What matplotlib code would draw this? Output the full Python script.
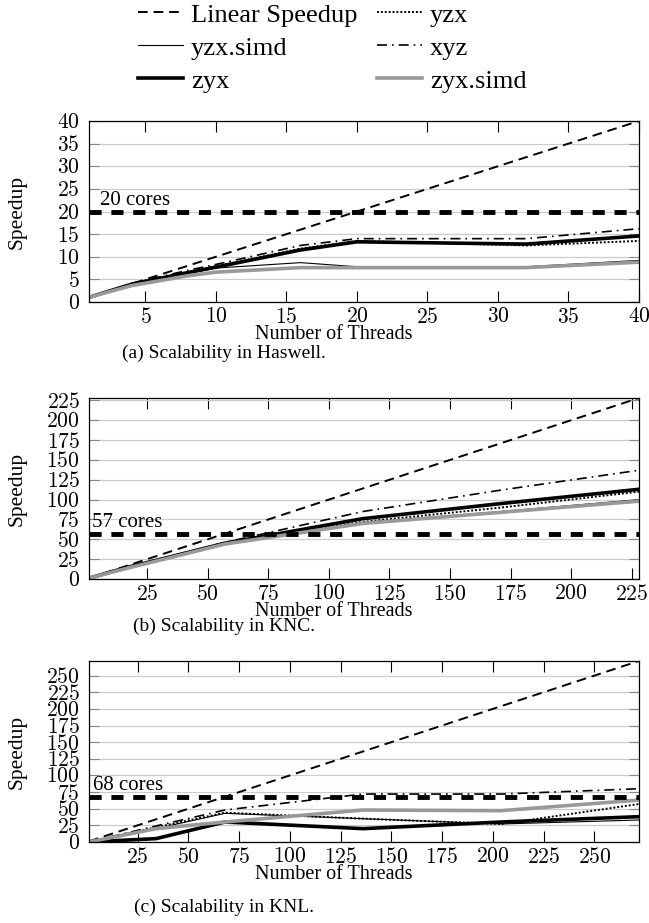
import matplotlib
matplotlib.use("Agg")
from matplotlib import pyplot as plt
from matplotlib.ticker import FuncFormatter
import matplotlib.transforms as mtransforms

plt.rcParams['font.family'] = ['Liberation Serif', 'DejaVu Serif']
plt.rcParams['mathtext.fontset'] = 'cm'

# Haswell
has_threads = [1, 2, 4, 8, 10, 16, 20, 32, 40]
has_yzx = [1, 2, 3.9, 6.6, 7.9, 11.8, 13.5, 12.5, 13.5]
has_yzx_simd = [1, 2, 3.8, 6.3, 7.5, 8.7, 7.8, 7.8, 9.2]
has_xyz = [1, 2, 4.1, 7.0, 8.3, 12.5, 14.0, 14.0, 16.2]
has_zyx = [1, 2, 3.9, 6.5, 7.7, 11.5, 13.3, 12.8, 14.6]
has_zyx_simd = [1, 1.9, 3.6, 5.8, 6.6, 7.6, 7.6, 7.6, 8.8]

# KNC
knc_threads = [1, 16, 32, 57, 114, 171, 228]
knc_yzx = [1, 14, 26, 45, 72, 90, 110]
knc_yzx_simd = [1, 13, 25, 44, 71, 85, 100]
knc_xyz = [1, 14, 26, 46, 85, 112, 137]
knc_zyx = [1, 14, 26, 45, 76, 95, 113]
knc_zyx_simd = [1, 13, 25, 44, 70, 84, 98]

# KNL
knl_threads = [1, 34, 68, 136, 204, 272]
knl_yzx = [0, 22, 44, 35, 27, 57]
knl_yzx_simd = [0, 20, 43, 35, 27, 33]
knl_xyz = [0, 24, 48, 72, 72, 80]
knl_zyx = [0, 5, 30, 20, 30, 38]
knl_zyx_simd = [0, 20, 30, 48, 47, 63]

panels = [
    ("(a) Scalability in Haswell.", has_threads, [has_yzx, has_yzx_simd, has_xyz, has_zyx, has_zyx_simd],
     40, 20, range(5, 41, 5), range(0, 41, 5), 0.6728, 0.02),
    ("(b) Scalability in KNC.", knc_threads, [knc_yzx, knc_yzx_simd, knc_xyz, knc_zyx, knc_zyx_simd],
     228, 57, range(25, 226, 25), range(0, 226, 25), 0.3727, 0.006),
    ("(c) Scalability in KNL.", knl_threads, [knl_yzx, knl_yzx_simd, knl_xyz, knl_zyx, knl_zyx_simd],
     272, 68, range(25, 251, 25), range(0, 251, 25), 0.0878, 0.008),
]

names = ["yzx", "yzx.simd", "xyz", "zyx", "zyx.simd"]
styles = [
    dict(color='black', lw=1.4, linestyle=(0, (1, 1))),
    dict(color='black', lw=0.8, linestyle='-'),
    dict(color='black', lw=1.2, linestyle=(0, (6, 3, 1, 3))),
    dict(color='black', lw=2.6, linestyle='-'),
    dict(color='#999999', lw=2.6, linestyle='-'),
]
caption_y = [0.617, 0.321, 0.017]

fig = plt.figure(figsize=(6.49, 9.23), dpi=100)
handles = {}
fmt = FuncFormatter(lambda v, p: f"${v:g}$")
for i, (cap, x, series, top, cores, xt, yt, bottom, tx) in enumerate(panels):
    ax = fig.add_axes([0.1371, bottom, 0.8475, 0.1961])
    lin, = ax.plot([1, top], [1, top], color='black', lw=1.4, linestyle=(0, (5, 3)))
    handles["Linear Speedup"] = lin
    for name, ys, st in zip(names, series, styles):
        h, = ax.plot(x, ys, **st)
        handles[name] = h
    ax.axhline(cores, color='black', lw=3.5, linestyle=(0, (2.5, 2)))
    trans = mtransforms.blended_transform_factory(ax.transAxes, ax.transData)
    ax.text(tx, cores + top * 0.01, f"{cores} cores", transform=trans, fontsize=15,
            ha='left', va='bottom')
    ax.set_xlim(1, top)
    ax.set_ylim(0, top)
    ax.set_xticks(list(xt))
    ax.set_yticks(list(yt))
    ax.xaxis.set_major_formatter(fmt)
    ax.yaxis.set_major_formatter(fmt)
    ax.yaxis.grid(True, color='#cccccc', lw=0.9)
    ax.set_axisbelow(True)
    ax.tick_params(axis='x', direction='in', top=True, length=8, width=0.8, labelsize=15.5, pad=4)
    ax.tick_params(axis='y', direction='in', right=True, length=7, width=0.8, color='#888888',
                   labelsize=15.5, pad=6.5)
    for s in ax.spines.values():
        s.set_linewidth(0.9)
    ax.set_xlabel("Number of Threads", fontsize=14.5)
    ax.xaxis.set_label_coords(0.445, -0.128)
    ax.xaxis.label.set_va('top')
    ax.set_ylabel("Speedup", fontsize=15.5)
    ax.yaxis.set_label_coords(-0.113, 0.5)
    fig.text(0.345, caption_y[i], cap, fontsize=14, ha='center', va='center')

order = ["Linear Speedup", "yzx.simd", "zyx", "yzx", "xyz", "zyx.simd"]
fig.legend([handles[k] for k in order], order, loc='upper center', bbox_to_anchor=(0.512, 1.008),
           ncol=2, frameon=False, fontsize=19, handlelength=1.7, handletextpad=0.3,
           columnspacing=0.75, labelspacing=0.36, borderaxespad=0)

fig.savefig("out.png", dpi=100)
